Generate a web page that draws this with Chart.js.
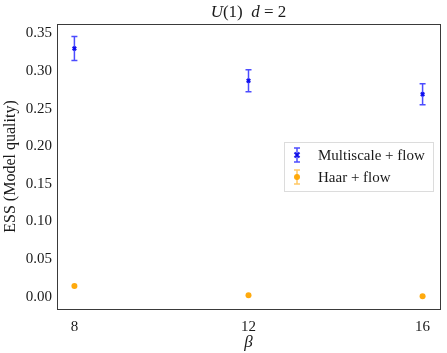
<!DOCTYPE html>
<html>
<head>
<meta charset="utf-8">
<script src="https://cdn.jsdelivr.net/npm/chart.js@4"></script>
<style>
  html, body { margin: 0; padding: 0; background: #fff; }
  #wrap { width: 447px; height: 353px; }
</style>
</head>
<body>
<div id="wrap"><canvas id="grafico" width="447" height="353"></canvas></div>
<script>
const betas = [8, 12, 16];
const multiscaleEss = [0.330, 0.287, 0.269];
const multiscaleErr = [0.016, 0.0146, 0.014];
const haarEss = [0.014, 0.0018, 0.0005];
const haarErr = [0.0008, 0.0004, 0.0002];
const yTicks = [0.00, 0.05, 0.10, 0.15, 0.20, 0.25, 0.30, 0.35];

const serif = "'Liberation Serif', 'DejaVu Serif', serif";
const corTexto = "#1a1a1a";

function pontos(xs, ys, errs) {
    return xs.map((x, i) => ({ x: x, y: ys[i], err: errs[i] }));
}

// error bars, frame, title and legend
const extras = {
    id: "extras",
    afterDatasetsDraw(chart) {
        const ctx = chart.ctx;
        const xs = chart.scales.x, ys = chart.scales.y;
        chart.data.datasets.forEach(ds => {
            ctx.save();
            ctx.strokeStyle = ds.barColor;
            ctx.lineWidth = 1.5;
            ds.data.forEach(p => {
                const px = xs.getPixelForValue(p.x);
                const top = ys.getPixelForValue(p.y + p.err);
                const bot = ys.getPixelForValue(p.y - p.err);
                if (bot - top < 2) return;
                ctx.beginPath();
                ctx.moveTo(px, top); ctx.lineTo(px, bot);
                ctx.moveTo(px - 3, top); ctx.lineTo(px + 3, top);
                ctx.moveTo(px - 3, bot); ctx.lineTo(px + 3, bot);
                ctx.stroke();
            });
            ctx.restore();
        });
    },
    afterDraw(chart) {
        const ctx = chart.ctx;
        const a = chart.chartArea;
        ctx.save();
        // frame
        ctx.strokeStyle = "#3a3a3a";
        ctx.lineWidth = 1;
        ctx.strokeRect(Math.round(a.left) + 0.5, Math.round(a.top) + 0.5,
                       Math.round(a.right - a.left), Math.round(a.bottom - a.top));

        // title: U(1) d = 2
        const partes = [
            ["U", "italic"], ["(1)", "normal"], ["  ", "normal"], ["d", "italic"], [" = 2", "normal"]
        ];
        let total = 0;
        partes.forEach(p => { ctx.font = p[1] + " 17px " + serif; total += ctx.measureText(p[0]).width; });
        let x = (a.left + a.right) / 2 - total / 2;
        ctx.fillStyle = corTexto;
        ctx.textBaseline = "middle";
        partes.forEach(p => {
            ctx.font = p[1] + " 17px " + serif;
            ctx.fillText(p[0], x, 13);
            x += ctx.measureText(p[0]).width;
        });

        // legend
        const lx = 284, ly = 142, lw = 149, lh = 49;
        ctx.fillStyle = "rgba(255,255,255,0.85)";
        ctx.strokeStyle = "#dcdcdc";
        ctx.fillRect(lx, ly, lw, lh);
        ctx.strokeRect(lx + 0.5, ly + 0.5, lw, lh);
        ctx.font = "15px " + serif;
        ctx.textBaseline = "middle";
        chart.data.datasets.forEach((ds, i) => {
            const cy = ly + 13 + i * 22;
            const ix = lx + 13;
            ctx.strokeStyle = ds.barColor;
            ctx.lineWidth = 1.5;
            ctx.beginPath();
            ctx.moveTo(ix, cy - 7); ctx.lineTo(ix, cy + 7);
            ctx.moveTo(ix - 3, cy - 7); ctx.lineTo(ix + 3, cy - 7);
            ctx.moveTo(ix - 3, cy + 7); ctx.lineTo(ix + 3, cy + 7);
            ctx.stroke();
            ctx.strokeStyle = ds.borderColor;
            ctx.fillStyle = ds.backgroundColor;
            if (ds.pointStyle === "crossRot") {
                ctx.lineWidth = 2;
                ctx.beginPath();
                ctx.moveTo(ix - 2.5, cy - 2.5); ctx.lineTo(ix + 2.5, cy + 2.5);
                ctx.moveTo(ix - 2.5, cy + 2.5); ctx.lineTo(ix + 2.5, cy - 2.5);
                ctx.stroke();
            } else {
                ctx.beginPath();
                ctx.arc(ix, cy, 3, 0, Math.PI * 2);
                ctx.fill();
            }
            ctx.fillStyle = corTexto;
            ctx.fillText(ds.label, lx + 34, cy + 1);
        });
        ctx.restore();
    }
};

function criarGrafico() {
    const canvas = document.getElementById("grafico");
    new Chart(canvas, {
        type: "scatter",
        data: {
            datasets: [
                {
                    label: "Multiscale + flow",
                    data: pontos(betas, multiscaleEss, multiscaleErr),
                    borderColor: "rgba(0, 0, 230, 0.9)",
                    backgroundColor: "rgba(0, 0, 230, 0.9)",
                    barColor: "rgba(0, 0, 255, 0.7)",
                    pointStyle: "crossRot",
                    pointRadius: 2.5,
                    borderWidth: 2
                },
                {
                    label: "Haar + flow",
                    data: pontos(betas, haarEss, haarErr),
                    borderColor: "rgba(255, 165, 0, 0.95)",
                    backgroundColor: "rgba(255, 165, 0, 0.95)",
                    barColor: "rgba(255, 165, 0, 0.6)",
                    pointStyle: "circle",
                    pointRadius: 3,
                    borderWidth: 0
                }
            ]
        },
        options: {
            responsive: false,
            animation: false,
            layout: { padding: { left: 0, right: 7, top: 24, bottom: 0 } },
            plugins: {
                legend: { display: false },
                title: { display: false },
                tooltip: { enabled: false }
            },
            scales: {
                x: {
                    type: "linear",
                    min: 7.6,
                    max: 16.4,
                    afterBuildTicks: axis => { axis.ticks = betas.map(v => ({ value: v })); },
                    afterFit: axis => { axis.height = 44; },
                    grid: { display: false, drawTicks: true, tickLength: 4, tickColor: "#333" },
                    border: { color: "#3a3a3a", width: 1 },
                    ticks: { color: corTexto, font: { family: serif, size: 15 }, padding: 5 },
                    title: { display: true, text: "β", color: corTexto, font: { family: serif, size: 17, style: "italic" }, padding: 0 }
                },
                y: {
                    min: -0.0165,
                    max: 0.3625,
                    afterBuildTicks: axis => { axis.ticks = yTicks.map(v => ({ value: v })); },
                    afterFit: axis => { axis.width = 57; },
                    grid: { display: false, drawTicks: true, tickLength: 4, tickColor: "#333" },
                    border: { color: "#3a3a3a", width: 1 },
                    ticks: {
                        color: corTexto,
                        font: { family: serif, size: 15 },
                        padding: 1,
                        callback: v => v.toFixed(2)
                    },
                    title: { display: true, text: "ESS (Model quality)", color: corTexto, font: { family: serif, size: 16 }, padding: 1 }
                }
            }
        },
        plugins: [extras]
    });
}

window.onload = criarGrafico;
</script>
</body>
</html>
